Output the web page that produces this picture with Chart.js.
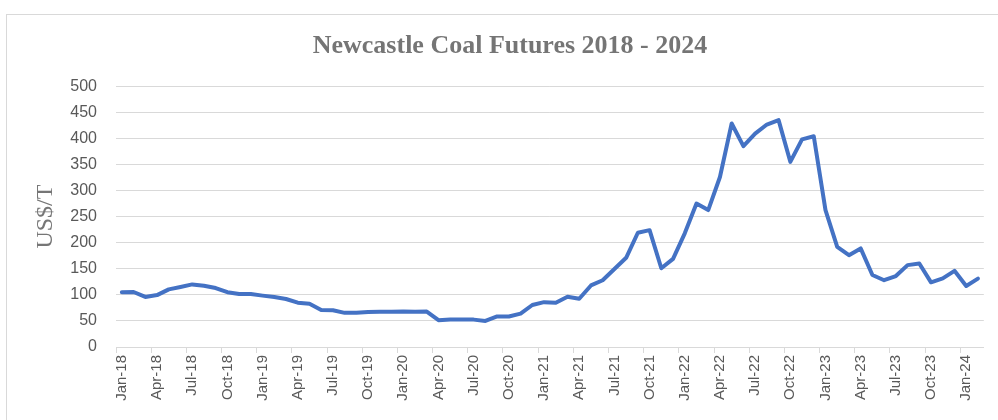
<!DOCTYPE html>
<html>
<head>
<meta charset="utf-8">
<script src="https://cdn.jsdelivr.net/npm/chart.js@4"></script>
<style>
    body { margin: 0; overflow: hidden; background: #fff; }
    #wrap { position: relative; width: 998px; height: 420px; }
    #frame {
        position: absolute; left: 6px; top: 14px;
        width: 1100px; height: 500px;
        border: 1px solid #d9d9d9;
    }
    #coalChart { position: absolute; left: 0; top: 0; }
</style>
</head>
<body>
<div id="wrap">
    <div id="frame"></div>
    <canvas id="coalChart" width="998" height="420"></canvas>
</div>
<script>
const months = [
    'Jan-18', 'Feb-18', 'Mar-18', 'Apr-18', 'May-18', 'Jun-18', 'Jul-18', 'Aug-18', 'Sep-18', 'Oct-18', 'Nov-18', 'Dec-18',
    'Jan-19', 'Feb-19', 'Mar-19', 'Apr-19', 'May-19', 'Jun-19', 'Jul-19', 'Aug-19', 'Sep-19', 'Oct-19', 'Nov-19', 'Dec-19',
    'Jan-20', 'Feb-20', 'Mar-20', 'Apr-20', 'May-20', 'Jun-20', 'Jul-20', 'Aug-20', 'Sep-20', 'Oct-20', 'Nov-20', 'Dec-20',
    'Jan-21', 'Feb-21', 'Mar-21', 'Apr-21', 'May-21', 'Jun-21', 'Jul-21', 'Aug-21', 'Sep-21', 'Oct-21', 'Nov-21', 'Dec-21',
    'Jan-22', 'Feb-22', 'Mar-22', 'Apr-22', 'May-22', 'Jun-22', 'Jul-22', 'Aug-22', 'Sep-22', 'Oct-22', 'Nov-22', 'Dec-22',
    'Jan-23', 'Feb-23', 'Mar-23', 'Apr-23', 'May-23', 'Jun-23', 'Jul-23', 'Aug-23', 'Sep-23', 'Oct-23', 'Nov-23', 'Dec-23',
    'Jan-24', 'Feb-24',
];

// US$/T, monthly
const prices2018 = [105, 105.5, 96, 99.5, 110.5, 115, 120, 117.5, 113, 105, 101.5, 101.5];
const prices2019 = [98.5, 96, 92, 85, 83, 71, 70.5, 65.5, 65.5, 67, 67.5, 67.5];
const prices2020 = [68, 67.5, 68, 51.5, 52.5, 52.5, 52.5, 50, 58.5, 58.5, 64, 80.5];
const prices2021 = [86, 85, 96.5, 92.5, 118, 128, 149.5, 171, 219, 224, 151, 169];
const prices2022 = [218, 275, 262.5, 326, 428.5, 385, 409, 426.5, 435, 355, 398, 404];
const prices2023 = [262.5, 192, 176, 189, 138, 128, 136, 157, 160, 124, 131.5, 146];
const prices2024 = [117, 131];

const prices = [].concat(prices2018, prices2019, prices2020, prices2021, prices2022, prices2023, prices2024);

const LINE_BLUE = '#4472C4';
const GRID_GREY = '#d9d9d9';
const TEXT_GREY = '#595959';

function renderCoalChart() {
    var ctx = document.getElementById('coalChart').getContext('2d');
    new Chart(ctx, {
        type: 'line',
        data: {
            labels: months,
            datasets: [{
                label: 'Newcastle Coal Futures',
                data: prices,
                borderColor: LINE_BLUE,
                backgroundColor: LINE_BLUE,
                borderWidth: 4,
                borderJoinStyle: 'round',
                borderCapStyle: 'round',
                pointRadius: 0,
                tension: 0,
                fill: false,
            }],
        },
        options: {
            responsive: false,
            animation: false,
            devicePixelRatio: 1,
            layout: { padding: { left: 30, right: 8, top: 0, bottom: 0 } },
            plugins: {
                legend: { display: false },
                tooltip: { enabled: false },
                title: {
                    display: true,
                    text: 'Newcastle Coal Futures 2018 - 2024',
                    color: '#757575',
                    font: { family: '"Liberation Serif", "Times New Roman", serif', size: 26, weight: 'bold' },
                    padding: { top: 31, bottom: 24 },
                },
            },
            scales: {
                x: {
                    offset: true,
                    border: { display: true, color: GRID_GREY, width: 1 },
                    grid: {
                        offset: true,
                        drawOnChartArea: false,
                        drawTicks: true,
                        tickLength: 6,
                        color: (c) => (c.index % 3 === 0 ? GRID_GREY : 'rgba(0,0,0,0)'),
                    },
                    ticks: {
                        autoSkip: false,
                        minRotation: 90,
                        maxRotation: 90,
                        padding: 2,
                        color: TEXT_GREY,
                        font: { family: '"Liberation Sans", Arial, sans-serif', size: 15 },
                        callback: function (value, index) {
                            return index % 3 === 0 ? this.getLabelForValue(value) : '';
                        },
                    },
                    afterFit: (scale) => { scale.height = 73; },
                },
                y: {
                    min: 0,
                    max: 500,
                    border: { display: false },
                    grid: { color: GRID_GREY, lineWidth: 1, drawTicks: false },
                    ticks: {
                        stepSize: 50,
                        padding: 19,
                        color: TEXT_GREY,
                        font: { family: '"Liberation Sans", Arial, sans-serif', size: 16 },
                    },
                    title: {
                        display: true,
                        text: 'US$/T',
                        color: '#767676',
                        font: { family: '"Liberation Serif", "Times New Roman", serif', size: 24 },
                        padding: { top: 1, bottom: 0 },
                    },
                    afterFit: (scale) => { scale.width = 86; },
                },
            },
        },
    });
}

renderCoalChart();
</script>
</body>
</html>
